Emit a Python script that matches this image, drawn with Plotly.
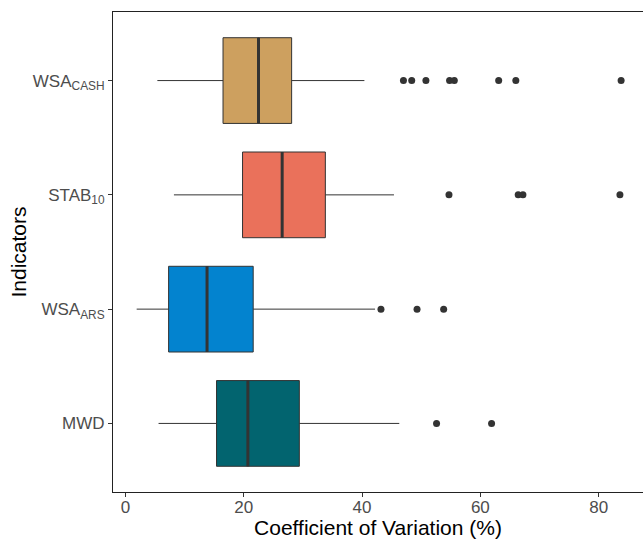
import plotly.graph_objects as go

categories = ["MWD", "WSA<sub>ARS</sub>", "STAB<sub>10</sub>", "WSA<sub>CASH</sub>"]
lower = [5.6, 1.9, 8.2, 5.4]
q1 = [15.4, 7.3, 19.8, 16.5]
median = [20.7, 13.8, 26.5, 22.5]
q3 = [29.4, 21.6, 33.8, 28.1]
upper = [46.3, 42.2, 45.4, 40.4]
outliers = [
    [52.6, 61.9],
    [43.2, 49.3, 53.8],
    [54.7, 66.4, 67.2, 83.6],
    [47.0, 48.4, 50.8, 54.8, 55.6, 63.1, 66.0, 83.8],
]
colors = ["#02646F", "#0383CF", "#EA715B", "#CDA05F"]
x_ticks = [0, 20, 40, 60, 80]

positions = list(range(1, len(categories) + 1))
box_w = 0.75

fig = go.Figure()
for i, cat in enumerate(categories):
    p = positions[i]
    fig.add_trace(go.Box(
        orientation="h",
        y=[p], q1=[q1[i]], median=[median[i]], q3=[q3[i]],
        lowerfence=[lower[i]], upperfence=[upper[i]],
        width=box_w, whiskerwidth=0,
        fillcolor=colors[i],
        line=dict(color="#333333", width=1),
        boxpoints=False, hoverinfo="skip", showlegend=False,
    ))
    fig.add_trace(go.Scatter(
        x=[median[i], median[i]], y=[p - box_w / 2, p + box_w / 2],
        mode="lines", line=dict(color="#333333", width=3),
        showlegend=False, hoverinfo="skip",
    ))
    fig.add_trace(go.Scatter(
        x=outliers[i], y=[p] * len(outliers[i]),
        mode="markers", marker=dict(color="#333333", size=7),
        showlegend=False, hoverinfo="skip",
    ))

fig.update_layout(
    width=643, height=539,
    margin=dict(l=113, r=0, t=12, b=47),
    paper_bgcolor="white", plot_bgcolor="white",
    font=dict(family="Liberation Sans, Arial, sans-serif"),
    xaxis=dict(
        range=[-2.1, 87.5], tickvals=x_ticks, ticktext=[str(t) for t in x_ticks],
        showline=True, linecolor="#222222", linewidth=1, mirror=True,
        ticks="outside", ticklen=4, tickcolor="#333333",
        tickfont=dict(size=17, color="#4D4D4D"), ticklabelstandoff=-4,
        showgrid=False, zeroline=False,
        title=dict(text="Coefficient of Variation (%)", font=dict(size=21, color="black"), standoff=2),
    ),
    yaxis=dict(
        range=[0.4, 4.6], tickvals=positions, ticktext=categories,
        showline=True, linecolor="#222222", linewidth=1,
        ticks="outside", ticklen=4, tickcolor="#333333",
        tickfont=dict(size=17, color="#4D4D4D"),
        showgrid=False, zeroline=False,
        title=dict(text="Indicators", font=dict(size=21, color="black"), standoff=0),
    ),
)

fig.write_html("out.html")
